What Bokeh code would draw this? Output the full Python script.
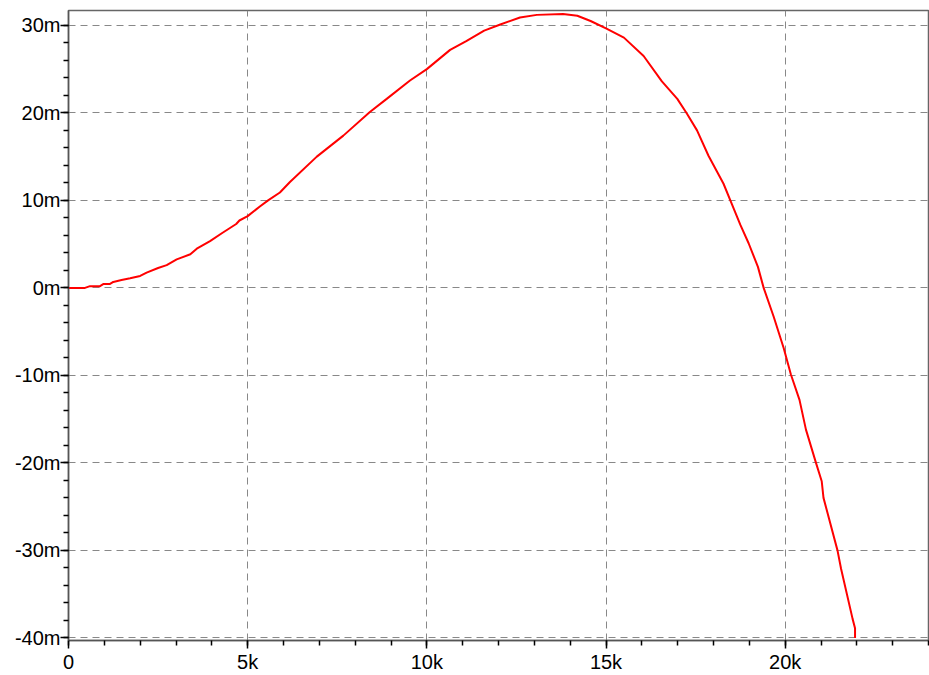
from bokeh.plotting import figure
from bokeh.models import SingleIntervalTicker, Range1d
from bokeh.embed import file_html
from bokeh.resources import INLINE

# frequency in kHz, value in milli-units
freq_k = [0.0, 0.46, 0.6, 0.88, 0.98, 1.16, 1.25, 1.48, 1.72, 2.0, 2.18, 2.5, 2.74,
          3.02, 3.4, 3.58, 3.95, 4.3, 4.68, 4.77, 5.0, 5.34, 5.57, 5.9, 6.18, 6.93,
          7.67, 8.41, 8.88, 9.53, 10.0, 10.65, 11.1, 11.6, 12.05, 12.6, 13.07, 13.8,
          14.2, 14.57, 15.0, 15.5, 16.05, 16.56, 16.99, 17.26, 17.54, 17.86, 18.28,
          18.47, 18.75, 18.98, 19.24, 19.4, 19.68, 19.96, 20.16, 20.4, 20.58, 20.86,
          21.02, 21.07, 21.46, 21.56, 21.88, 21.95, 21.95]
value_m = [0.0, 0.0, 0.2, 0.2, 0.45, 0.45, 0.68, 0.9, 1.1, 1.36, 1.74, 2.27, 2.6,
           3.25, 3.84, 4.48, 5.35, 6.3, 7.3, 7.7, 8.2, 9.3, 10.0, 10.9, 12.1, 15.0,
           17.4, 20.1, 21.6, 23.7, 25.0, 27.2, 28.2, 29.4, 30.1, 30.9, 31.2, 31.3,
           31.1, 30.5, 29.65, 28.6, 26.5, 23.6, 21.6, 19.9, 18.0, 15.1, 11.9,
           10.0, 7.2, 5.1, 2.4, 0.0, -3.3, -6.9, -9.9, -12.8, -16.2, -20.0,
           -22.1, -24.0, -30.0, -32.1, -37.8, -38.9, -40.0]

x_ticks = [0, 5, 10, 15, 20]
x_labels = ["0", "5k", "10k", "15k", "20k"]
y_ticks = [-40, -30, -20, -10, 0, 10, 20, 30]
y_labels = ["-40m", "-30m", "-20m", "-10m", "0m", "10m", "20m", "30m"]

p = figure(width=929, height=675, output_backend="svg", toolbar_location=None,
           x_range=Range1d(0, 24), y_range=Range1d(-40.3, 31.7))
p.min_border_left = 68
p.min_border_right = 1
p.min_border_top = 10
p.min_border_bottom = 34
p.background_fill_color = "white"
p.border_fill_color = "white"
p.outline_line_color = "#666666"
p.outline_line_width = 1.5

p.line(freq_k, value_m, line_color="#ff0000", line_width=2)

p.xaxis.ticker = SingleIntervalTicker(interval=5, num_minor_ticks=5)
p.yaxis.ticker = SingleIntervalTicker(interval=10, num_minor_ticks=5)
p.xaxis.major_label_overrides = {t: l for t, l in zip(x_ticks, x_labels)}
p.yaxis.major_label_overrides = {t: l for t, l in zip(y_ticks, y_labels)}

for ax in (p.xaxis[0], p.yaxis[0]):
    ax.axis_line_color = "#555555"
    ax.axis_line_width = 1.5
    ax.major_tick_line_color = "black"
    ax.minor_tick_line_color = "black"
    ax.major_tick_line_width = 1.5
    ax.minor_tick_line_width = 1.5
    ax.major_tick_in = 0
    ax.major_tick_out = 8
    ax.minor_tick_in = 0
    ax.minor_tick_out = 5
    ax.major_label_text_font = "Liberation Sans"
    ax.major_label_text_font_size = "20px"
    ax.major_label_text_color = "black"
p.xaxis.major_label_standoff = 2
p.yaxis.major_label_standoff = 0

for g in (p.xgrid[0], p.ygrid[0]):
    g.grid_line_color = "#888888"
    g.grid_line_width = 1
    g.grid_line_dash = "7 5"

open("out.html", "w").write(file_html(p, INLINE))
